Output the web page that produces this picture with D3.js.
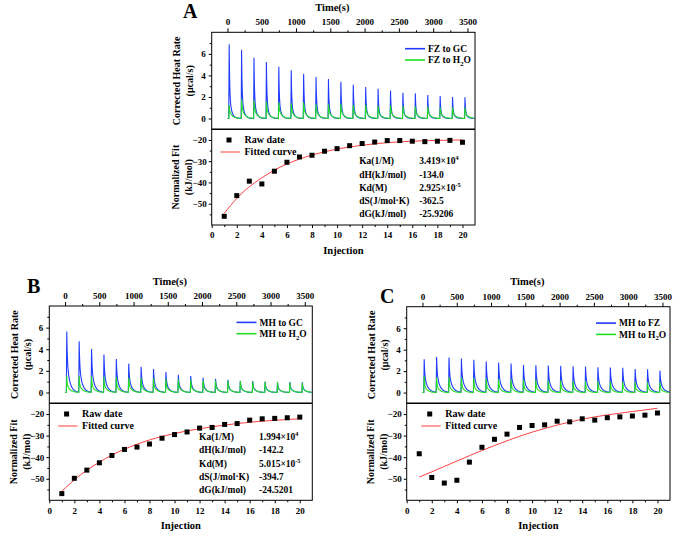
<!DOCTYPE html>
<html>
<head>
<meta charset="utf-8">
<style>
  body{margin:0;background:#fff;}
  svg{display:block;font-family:"Liberation Serif","Times New Roman",serif;font-weight:bold;}
</style>
</head>
<body>
<svg width="685" height="538"></svg>
<script src="https://cdn.jsdelivr.net/npm/d3@7/dist/d3.min.js"></script>
<script>
// ---- data ----
var injections = [1,2,3,4,5,6,7,8,9,10,11,12,13,14,15,16,17,18,19,20];
var injTimes = [25,206,387,568,749,930,1111,1292,1473,1654,1835,2016,2197,2378,2559,2740,2921,3102,3283,3464];

var timeTicks = [0,500,1000,1500,2000,2500,3000,3500];
var timeMinor = [250,750,1250,1750,2250,2750,3250];
var rateTicks = [0,2,4,6];
var rateMinor = [1,3,5,7];
var fitTicks = [-20,-30,-40,-50];
var fitMinor = [-25,-35,-45,-55];
var injTicks = [0,2,4,6,8,10,12,14,16,18,20];
var injMinor = [1,3,5,7,9,11,13,15,17,19];

// peak heights (ucal/s) per injection
var peaksA_blue  = [6.88,6.38,5.63,5.25,4.81,4.47,4.16,3.84,3.66,3.41,3.13,2.91,2.75,2.59,2.38,2.34,2.19,2.09,2.0,1.97];
var peaksA_green = [1.25,1.78,1.66,1.56,1.5,1.41,1.5,1.31,1.31,1.38,1.25,1.25,1.19,1.19,1.16,1.09,1.09,1.03,1.03,1.0];
var peaksB_blue  = [5.63,4.71,4.0,3.48,3.08,2.65,2.37,2.15,1.88,1.63,1.51,1.35,1.26,1.17,1.08,1.05,0.98,0.95,0.95,0.95];
var peaksB_green = [1.54,1.52,1.48,1.45,1.42,1.38,1.34,1.3,1.26,1.22,1.18,1.14,1.1,1.07,1.04,1.01,0.98,0.95,0.93,0.9];
var peaksC_blue  = [3.11,3.29,3.23,3.14,3.02,2.86,2.77,2.68,2.55,2.52,2.49,2.46,2.43,2.4,2.34,2.31,2.28,2.18,2.15,2.03];
var peaksC_green = [1.54,1.42,1.42,1.38,1.32,1.29,1.25,1.22,1.2,1.18,1.15,1.12,1.1,1.08,1.05,1.03,1.0,0.98,0.96,0.94];

// normalized fit (kJ/mol)
var rawA = [-55.9,-46.2,-39.4,-40.7,-34.7,-30.5,-28.0,-27.2,-25.3,-24.1,-22.7,-21.7,-21.0,-20.3,-20.3,-20.6,-20.8,-20.6,-20.2,-21.1];
var fitA = [-54.5,-47.5,-42.0,-37.8,-34.2,-31.3,-29.0,-27.1,-25.6,-24.3,-23.3,-22.5,-21.8,-21.3,-20.9,-20.6,-20.4,-20.2,-20.1,-20.0];
var rawB = [-56.9,-49.8,-46.0,-42.6,-39.2,-36.4,-35.3,-33.9,-31.2,-29.5,-28.3,-26.5,-26.2,-24.8,-24.4,-22.8,-22.2,-22.0,-21.7,-21.4];
var fitB = [-55.8,-50.5,-46.0,-42.3,-39.0,-36.3,-34.0,-32.0,-30.4,-29.0,-27.8,-26.8,-25.9,-25.1,-24.4,-23.8,-23.3,-22.9,-22.5,-22.2];
var rawC = [-38.4,-49.4,-52.0,-50.7,-42.3,-35.4,-31.7,-29.3,-26.2,-25.3,-25.0,-23.3,-23.6,-22.2,-22.8,-21.7,-21.3,-20.9,-20.5,-19.5];
var fitC = [-49.2,-46.8,-44.3,-41.8,-39.3,-36.9,-34.6,-32.4,-30.3,-28.4,-26.7,-25.1,-23.7,-22.4,-21.3,-20.4,-19.6,-18.8,-18.1,-17.3];

var paramNames = ["Ka(1/M)","dH(kJ/mol)","Kd(M)","dS(J/mol\u00b7K)","dG(kJ/mol)"];
var paramsA = ["3.419\u00d710^4","-134.0","2.925\u00d710^-5","-362.5","-25.9206"];
var paramsB = ["1.994\u00d710^4","-142.2","5.015\u00d710^-5","-394.7","-24.5201"];

var seriesA = ["FZ to GC","FZ to H_2O"];
var seriesB = ["MH to GC","MH to H_2O"];
var seriesC = ["MH to FZ","MH to H_2O"];
var fitLegend = ["Raw date","Fitted curve"];

var blue = "#1f3cff", green = "#22dd22", red = "#ff4040";

// ---- panels (layout) ----
var panels = [
  {name:"A", x0:211.7, x1:475, yTop:32.3, yMid:129.3, yBot:225, lx:183, ly:17.5, legX:405, rawDX:17.3,
   tabX:147.5, tabRows:[31,45,58.4,71,84.7], series:seriesA, peaks:[peaksA_blue,peaksA_green],
   shapes:[{a:0.65,t1:7,t2:30},{a:0.45,t1:8,t2:45}], raw:rawA, fit:fitA, params:paramsA},
  {name:"B", x0:49.3, x1:312.3, yTop:306, yMid:403.3, yBot:500.3, lx:27, ly:293, legX:236.5, rawDX:17.3,
   tabX:149.7, tabRows:[33.4,46,60,73.4,86], series:seriesB, peaks:[peaksB_blue,peaksB_green],
   shapes:[{a:0.45,t1:8,t2:40},{a:0.5,t1:6,t2:45}], raw:rawB, fit:fitB, params:paramsB},
  {name:"C", x0:406.7, x1:670, yTop:306.7, yMid:403.3, yBot:500.3, lx:380, ly:302.5, legX:596, rawDX:23,
   tabX:0, tabRows:null, series:seriesC, peaks:[peaksC_blue,peaksC_green],
   shapes:[{a:0.45,t1:8,t2:45},{a:0.5,t1:6,t2:40}], raw:rawC, fit:fitC, params:null}
];

var svg = d3.select("svg");
svg.append("rect").attr("width",685).attr("height",538).attr("fill","#fff");

var rise = 6;
function pulse(s, sh){
  if(s < -rise) return 0;
  if(s < 0) return (s+rise)/rise;
  return sh.a*Math.exp(-s/sh.t1) + (1-sh.a)*Math.exp(-s/sh.t2);
}

function trace(peaks, sh){
  var pts = [];
  for(var t=0;t<=3600;t+=1){
    var v=0;
    for(var i=0;i<injTimes.length;i++){
      var s=t-injTimes[i];
      if(s<-rise) break;
      v+=peaks[i]*pulse(s,sh);
    }
    pts.push([t,v]);
  }
  return pts;
}

// text with _sub and ^sup markup
function richText(sel, str, size){
  var m;
  if((m=str.match(/^(.*)_(\w)(.*)$/))){
    sel.append("tspan").text(m[1]);
    sel.append("tspan").attr("font-size",size*0.7).attr("dy",2.5).text(m[2]);
    sel.append("tspan").attr("dy",-2.5).text(m[3]);
  } else if((m=str.match(/^(.*)\^(.*)$/))){
    sel.append("tspan").text(m[1]);
    sel.append("tspan").attr("font-size",size*0.65).attr("dy",-4).text(m[2]);
  } else sel.text(str);
}

function styleAxis(g, size){
  g.select(".domain").remove();
  g.attr("font-family",null).attr("font-size",null);
  g.selectAll("line").attr("stroke","#000");
  g.selectAll("text").attr("font-size",size).attr("fill","#000");
}

panels.forEach(function(p){
  var g = svg.append("g");
  var x = d3.scaleLinear().domain([-230,3610]).range([p.x0,p.x1]);
  var yT = d3.scaleLinear().domain([-1,8]).range([p.yMid,p.yTop]);
  var xI = d3.scaleLinear().domain([0,21]).range([p.x0,p.x1]);
  var yF = d3.scaleLinear().domain([-60,-15]).range([p.yBot,p.yMid]);

  // axes
  g.append("g").attr("transform","translate(0,"+p.yTop+")")
    .call(d3.axisTop(x).tickValues(timeTicks).tickSize(4).tickPadding(3).tickFormat(d3.format("d")))
    .call(styleAxis,9);
  g.append("g").attr("transform","translate(0,"+p.yTop+")")
    .call(d3.axisTop(x).tickValues(timeMinor).tickSize(2).tickFormat(""))
    .call(styleAxis,9);
  g.append("g").attr("transform","translate("+p.x0+",0)")
    .call(d3.axisLeft(yT).tickValues(rateTicks).tickSize(3).tickPadding(3))
    .call(styleAxis,9);
  g.append("g").attr("transform","translate("+p.x0+",0)")
    .call(d3.axisLeft(yT).tickValues(rateMinor).tickSize(2).tickFormat(""))
    .call(styleAxis,9);
  g.append("g").attr("transform","translate("+p.x0+",0)")
    .call(d3.axisLeft(yF).tickValues(fitTicks).tickSize(3).tickPadding(2))
    .call(styleAxis,9);
  g.append("g").attr("transform","translate("+p.x0+",0)")
    .call(d3.axisLeft(yF).tickValues(fitMinor).tickSize(2).tickFormat(""))
    .call(styleAxis,9);
  g.append("g").attr("transform","translate(0,"+p.yBot+")")
    .call(d3.axisBottom(xI).tickValues(injTicks).tickSize(3).tickPadding(4))
    .call(styleAxis,9);
  g.append("g").attr("transform","translate(0,"+p.yBot+")")
    .call(d3.axisBottom(xI).tickValues(injMinor).tickSize(2).tickFormat(""))
    .call(styleAxis,9);

  // thermogram lines
  var line = d3.line().x(function(d){return x(d[0]);}).y(function(d){return yT(d[1]);});
  [blue,green].forEach(function(c,k){
    g.append("path").datum(trace(p.peaks[k],p.shapes[k]))
      .attr("d",line).attr("fill","none").attr("stroke",c).attr("stroke-width",1.1);
  });

  // fit curve + raw points
  var fline = d3.line().curve(d3.curveMonotoneX)
    .x(function(d,i){return xI(injections[i]);}).y(function(d){return yF(d);});
  g.append("path").datum(p.fit).attr("d",fline).attr("fill","none").attr("stroke",red).attr("stroke-width",1);
  g.selectAll("rect.raw").data(p.raw).enter().append("rect").attr("class","raw")
    .attr("x",function(d,i){return xI(injections[i])-2.5;}).attr("y",function(d){return yF(d)-2.5;})
    .attr("width",5).attr("height",5).attr("fill","#000");

  // frame
  g.append("rect").attr("x",p.x0).attr("y",p.yTop).attr("width",p.x1-p.x0).attr("height",p.yBot-p.yTop)
    .attr("fill","none").attr("stroke","#000").attr("stroke-width",1);
  g.append("line").attr("x1",p.x0).attr("x2",p.x1).attr("y1",p.yMid).attr("y2",p.yMid)
    .attr("stroke","#000").attr("stroke-width",1.4);

  // titles
  g.append("text").attr("x",p.lx).attr("y",p.ly).attr("font-size",20).text(p.name);
  var cx = (p.x0+p.x1)/2;
  g.append("text").attr("x",cx-11).attr("y",p.yTop-21.5).attr("text-anchor","middle").attr("font-size",10.5).text("Time(s)");
  g.append("text").attr("x",cx).attr("y",p.yBot+29).attr("text-anchor","middle").attr("font-size",10.5).text("Injection");
  function ylab(xx, yy, str){
    g.append("text").attr("transform","translate("+xx+","+yy+") rotate(-90)")
      .attr("text-anchor","middle").attr("dominant-baseline","central").attr("font-size",10).text(str);
  }
  var ct = (p.yTop+p.yMid)/2, cb = (p.yMid+p.yBot)/2;
  ylab(p.x0-35, ct, "Corrected Heat Rate");
  ylab(p.x0-22, ct, "(\u03bccal/s)");
  ylab(p.x0-36, cb, "Normalized Fit");
  ylab(p.x0-23, cb, "(kJ/mol)");

  // top legend
  p.series.forEach(function(s,k){
    var yy = p.yTop + (k===0?16.4:27.7);
    g.append("line").attr("x1",p.legX).attr("x2",p.legX+20).attr("y1",yy).attr("y2",yy)
      .attr("stroke",[blue,green][k]).attr("stroke-width",1.6);
    g.append("text").attr("x",p.legX+23).attr("y",yy+3.3).attr("font-size",9.5).call(richText,s,9.5);
  });

  // fit legend
  var r1 = p.yMid+10.7, r2 = p.yMid+22.7;
  g.append("rect").attr("x",p.x0+p.rawDX-2.5).attr("y",r1-2.5).attr("width",5).attr("height",5).attr("fill","#000");
  g.append("line").attr("x1",p.x0+p.rawDX-8.5).attr("x2",p.x0+p.rawDX+11).attr("y1",r2).attr("y2",r2)
    .attr("stroke",red).attr("stroke-width",1);
  g.append("text").attr("x",p.x0+p.rawDX+15.5).attr("y",r1+3.4).attr("font-size",10).text(fitLegend[0]);
  g.append("text").attr("x",p.x0+p.rawDX+15.5).attr("y",r2+3.4).attr("font-size",10).text(fitLegend[1]);

  // parameter table
  if(p.params){
    paramNames.forEach(function(n,k){
      var yy = p.yMid + p.tabRows[k] + 3.3;
      g.append("text").attr("x",p.x0+p.tabX).attr("y",yy).attr("font-size",9.5).text(n);
      g.append("text").attr("x",p.x0+p.tabX+60).attr("y",yy).attr("font-size",9.5).call(richText,p.params[k],9.5);
    });
  }
});
</script>
</body>
</html>
